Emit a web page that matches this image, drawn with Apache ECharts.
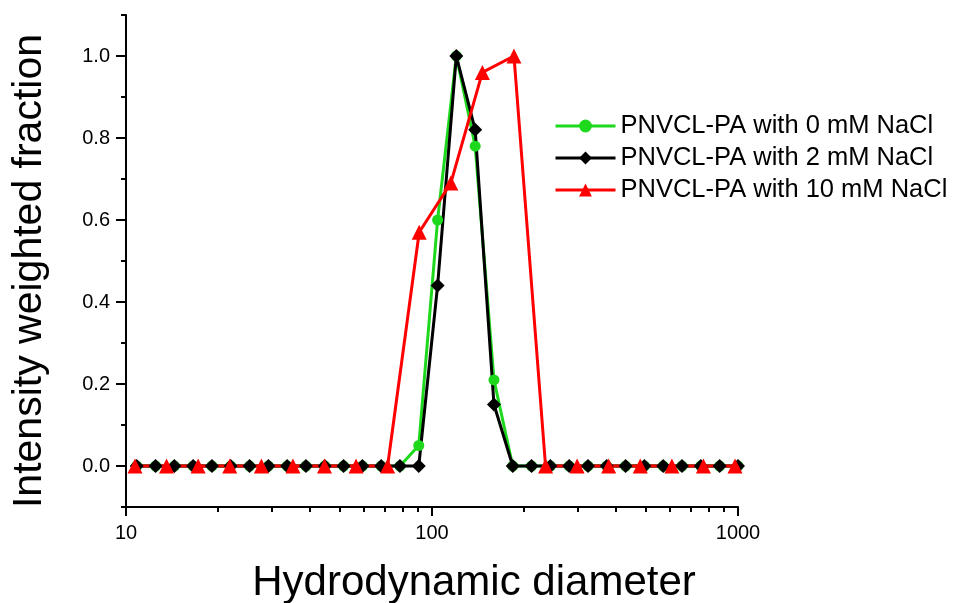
<!DOCTYPE html>
<html>
<head>
<meta charset="utf-8">
<script src="https://cdn.jsdelivr.net/npm/echarts@6/dist/echarts.min.js"></script>
<style>
  html, body { margin: 0; padding: 0; background: #fff; }
  #chart { width: 953px; height: 603px; }
</style>
</head>
<body>
<div id="chart"></div>
<script>
// size bins (nm) for the 0 mM and 2 mM runs
var sizesLow = [10.84, 12.49, 14.39, 16.57, 19.09, 21.99, 25.34, 29.19, 33.62, 38.73,
  44.62, 51.40, 59.21, 68.21, 78.58, 90.52, 104.3, 120.1, 138.4, 159.4,
  183.6, 211.5, 243.7, 280.7, 323.4, 372.5, 429.2, 494.4, 569.5, 656.1,
  755.8, 870.7, 1000];
// size bins for the 10 mM run
var sizesHigh = [10.70, 13.57, 17.21, 21.83, 27.69, 35.12, 44.53, 56.47, 71.61, 90.82,
  115.2, 146.1, 185.3, 235.0, 298.0, 378.0, 479.3, 607.9, 770.9, 977.7];

var nacl0 = [0, 0, 0, 0, 0, 0, 0, 0, 0, 0, 0, 0, 0, 0, 0, 0.05, 0.60, 1.0, 0.78, 0.21,
  0, 0, 0, 0, 0, 0, 0, 0, 0, 0, 0, 0, 0];
var nacl2 = [0, 0, 0, 0, 0, 0, 0, 0, 0, 0, 0, 0, 0, 0, 0, 0, 0.44, 1.0, 0.82, 0.15,
  0, 0, 0, 0, 0, 0, 0, 0, 0, 0, 0, 0, 0];
var nacl10 = [0, 0, 0, 0, 0, 0, 0, 0, 0, 0.57, 0.69, 0.96, 1.0, 0,
  0, 0, 0, 0, 0, 0];

var seriesNames = ["PNVCL-PA with 0 mM NaCl", "PNVCL-PA with 2 mM NaCl", "PNVCL-PA with 10 mM NaCl"];
var yMajor = [0, 0.2, 0.4, 0.6, 0.8, 1.0];
var yMinor = [-0.1, 0.1, 0.3, 0.5, 0.7, 0.9, 1.1];
var xMinor = [20, 30, 40, 50, 60, 70, 80, 90, 200, 300, 400, 500, 600, 700, 800, 900];

function pairs(xs, ys) {
  return xs.map(function (x, i) { return [x, ys[i]]; });
}

var font = "'Liberation Sans', Arial, sans-serif";
var chart = echarts.init(document.getElementById("chart"));

var option = {
  animation: false,
  grid: { left: 126, right: 215, top: 15, bottom: 96, containLabel: false, outerBoundsMode: "none" },
  legend: {
    left: 549,
    top: 108,
    orient: "vertical",
    itemWidth: 60,
    itemHeight: 16,
    itemGap: 6,
    lineStyle: { width: 3 },
    textStyle: { fontFamily: font, fontSize: 25.5, color: "#000" },
    data: seriesNames
  },
  xAxis: [
    {
      type: "log",
      logBase: 10,
      min: 10,
      max: 1000,
      name: "Hydrodynamic diameter",
      nameLocation: "middle",
      nameGap: 55,
      nameTextStyle: { fontFamily: font, fontSize: 42, color: "#000", padding: [0, 0, 0, 84] },
      axisLine: { onZero: false, lineStyle: { color: "#000", width: 2 } },
      axisTick: { length: 9, lineStyle: { color: "#000", width: 2 } },
      axisLabel: {
        fontFamily: font, fontSize: 20, color: "#000", margin: 16,
        formatter: function (v) { return String(Math.round(v)); }
      },
      splitLine: { show: false },
      minorTick: { show: false }
    },
    {
      type: "log",
      logBase: 10,
      min: 10,
      max: 1000,
      position: "bottom",
      axisLine: { show: false, onZero: false },
      axisTick: { length: 5, customValues: xMinor, lineStyle: { color: "#000", width: 2 } },
      axisLabel: { show: false },
      splitLine: { show: false }
    }
  ],
  yAxis: [
    {
      type: "value",
      min: -0.1,
      max: 1.1,
      name: "Intensity weighted fraction",
      nameLocation: "middle",
      nameGap: 76,
      nameTextStyle: { fontFamily: font, fontSize: 41, color: "#000", padding: [0, 20, 0, 0] },
      axisLine: { show: true, onZero: false, lineStyle: { color: "#000", width: 2 } },
      axisTick: { show: true, length: 10, customValues: yMajor, lineStyle: { color: "#000", width: 2 } },
      axisLabel: {
        fontFamily: font, fontSize: 20, color: "#000", margin: 16,
        customValues: yMajor,
        formatter: function (v) { return v.toFixed(1); }
      },
      splitLine: { show: false }
    },
    {
      type: "value",
      min: -0.1,
      max: 1.1,
      position: "left",
      axisLine: { show: false, onZero: false },
      axisTick: { show: true, length: 5, customValues: yMinor, lineStyle: { color: "#000", width: 2 } },
      axisLabel: { show: false },
      splitLine: { show: false }
    }
  ],
  series: [
    {
      name: seriesNames[0],
      type: "line",
      xAxisIndex: 0,
      yAxisIndex: 0,
      data: pairs(sizesLow, nacl0),
      symbol: "circle",
      symbolSize: 11,
      clip: false,
      color: "#1ed81e",
      lineStyle: { width: 3, color: "#1ed81e" },
      itemStyle: { color: "#1ed81e" }
    },
    {
      name: seriesNames[1],
      type: "line",
      xAxisIndex: 0,
      yAxisIndex: 0,
      data: pairs(sizesLow, nacl2),
      symbol: "diamond",
      symbolSize: 14,
      clip: false,
      color: "#000",
      lineStyle: { width: 3, color: "#000" },
      itemStyle: { color: "#000" }
    },
    {
      name: seriesNames[2],
      type: "line",
      xAxisIndex: 0,
      yAxisIndex: 0,
      data: pairs(sizesHigh, nacl10),
      symbol: "triangle",
      symbolSize: 15,
      clip: false,
      color: "#ff0000",
      lineStyle: { width: 3, color: "#ff0000" },
      itemStyle: { color: "#ff0000" }
    }
  ]
};

chart.setOption(option);
</script>
</body>
</html>
